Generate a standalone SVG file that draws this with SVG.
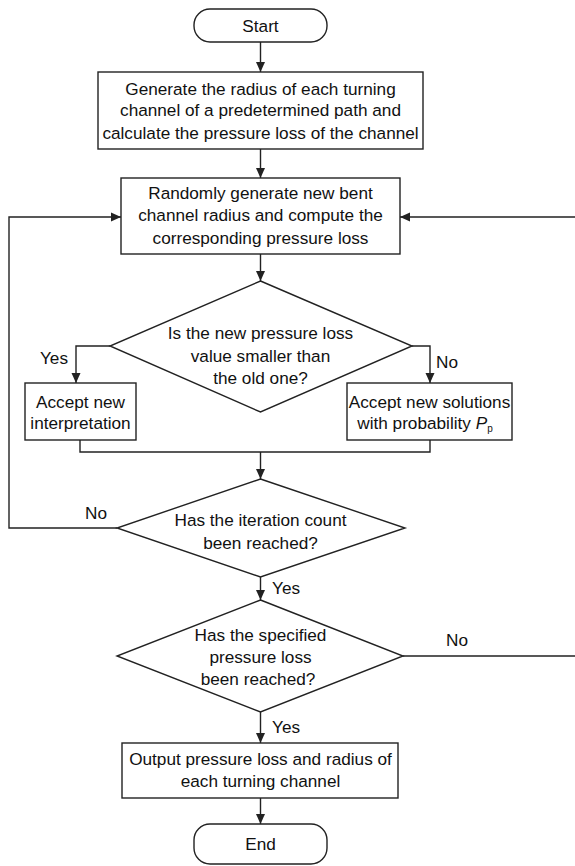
<svg xmlns="http://www.w3.org/2000/svg" width="575" height="866" viewBox="0 0 575 866">
<defs>
<marker id="ah" viewBox="0 0 10 10" refX="10" refY="5" markerWidth="10" markerHeight="10" markerUnits="userSpaceOnUse" orient="auto">
<path d="M0,0.5 L10,5 L0,9.5 Z" fill="#222"/>
</marker>
<style>
.s{fill:#fff;stroke:#222;stroke-width:1.4}
.c{fill:none;stroke:#222;stroke-width:1.4}
text{font-family:"Liberation Sans",Arial,sans-serif;font-size:17.2px;fill:#111}
.m{text-anchor:middle}
</style>
</defs>
<rect width="575" height="866" fill="#fff"/>
<g id="connectors">
<path class="c" d="M260.5,42 V72" marker-end="url(#ah)"/>
<path class="c" d="M260.5,149 V178" marker-end="url(#ah)"/>
<path class="c" d="M260.5,254 V281" marker-end="url(#ah)"/>
<path class="c" d="M110,346 H76 V383" marker-end="url(#ah)"/>
<path class="c" d="M412,346 H430 V383" marker-end="url(#ah)"/>
<path class="c" d="M80,440 V452 H430 V440"/>
<path class="c" d="M260.5,452 V479" marker-end="url(#ah)"/>
<path class="c" d="M117,528 H9 V217 H121" marker-end="url(#ah)"/>
<path class="c" d="M260.5,577 V600" marker-end="url(#ah)"/>
<path class="c" d="M403,656 H578 V217 H400" marker-end="url(#ah)"/>
<path class="c" d="M260.5,712 V743" marker-end="url(#ah)"/>
<path class="c" d="M260.5,798 V824" marker-end="url(#ah)"/>
<text x="54" y="364" class="m">Yes</text>
<text x="447" y="368" class="m">No</text>
<text x="96" y="519" class="m">No</text>
<text x="272" y="594">Yes</text>
<text x="457" y="646" class="m">No</text>
<text x="272" y="733">Yes</text>
</g>
<g id="start">
<rect class="s" x="194" y="9" width="133" height="33" rx="16"/>
<text x="260.5" y="32" class="m">Start</text>
</g>
<g id="init">
<rect class="s" x="98" y="72" width="325" height="77"/>
<text x="260.5" y="95" class="m">Generate the radius of each turning</text>
<text x="260.5" y="116" class="m">channel of a predetermined path and</text>
<text x="260.5" y="139" class="m">calculate the pressure loss of the channel</text>
</g>
<g id="random">
<rect class="s" x="121" y="178" width="279" height="76"/>
<text x="260.5" y="199" class="m">Randomly generate new bent</text>
<text x="260.5" y="221" class="m">channel radius and compute the</text>
<text x="260.5" y="244" class="m">corresponding pressure loss</text>
</g>
<g id="dec1">
<polygon class="s" points="260.5,281 412,346 260.5,412 110,346"/>
<text x="260.5" y="339" class="m">Is the new pressure loss</text>
<text x="260.5" y="362" class="m">value smaller than</text>
<text x="260.5" y="384" class="m">the old one?</text>
</g>
<g id="accept">
<rect class="s" x="25" y="383" width="111" height="57"/>
<text x="80.5" y="408" class="m">Accept new</text>
<text x="80.5" y="429" class="m">interpretation</text>
</g>
<g id="prob">
<rect class="s" x="347" y="383" width="165" height="57"/>
<text x="429.5" y="408" class="m">Accept new solutions</text>
<text x="425" y="429" class="m">with probability <tspan font-style="italic">P</tspan><tspan font-size="10" dy="3">p</tspan></text>
</g>
<g id="dec2">
<polygon class="s" points="260.5,479 405,528 260.5,577 117,528"/>
<text x="260.5" y="526" class="m">Has the iteration count</text>
<text x="260.5" y="549" class="m">been reached?</text>
</g>
<g id="dec3">
<polygon class="s" points="260.5,600 403,656 260.5,712 117,656"/>
<text x="260.5" y="641" class="m">Has the specified</text>
<text x="260.5" y="663" class="m">pressure loss</text>
<text x="258" y="685" class="m">been reached?</text>
</g>
<g id="output">
<rect class="s" x="122" y="743" width="276" height="55"/>
<text x="260.5" y="765" class="m">Output pressure loss and radius of</text>
<text x="260.5" y="787" class="m">each turning channel</text>
</g>
<g id="end">
<rect class="s" x="194" y="824" width="133" height="40" rx="16"/>
<text x="260.5" y="850" class="m">End</text>
</g>
</svg>
